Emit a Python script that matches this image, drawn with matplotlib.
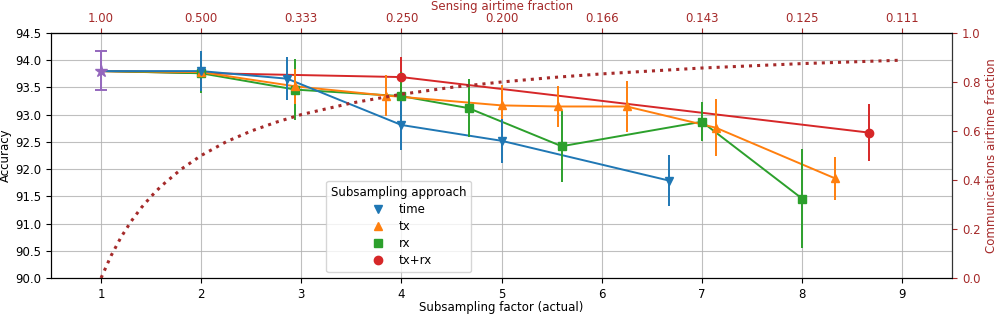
import matplotlib
matplotlib.use("Agg")
import matplotlib.pyplot as plt
from matplotlib.lines import Line2D

plt.rcParams["font.size"] = 8.5

# ---- data ----
time_x = [1, 2, 2.86, 4, 5, 6.67]
time_acc = [93.80, 93.80, 93.66, 92.81, 92.52, 91.79]
time_err = [0, 0.37, 0.40, 0.46, 0.40, 0.47]

tx_x = [1, 2, 2.94, 3.85, 5, 5.56, 6.25, 7.14, 8.33]
tx_acc = [93.80, 93.78, 93.52, 93.35, 93.17, 93.15, 93.15, 92.76, 91.83]
tx_err = [0, 0.30, 0.32, 0.37, 0.37, 0.37, 0.46, 0.52, 0.40]

rx_x = [1, 2, 2.94, 4, 4.67, 5.6, 7, 8]
rx_acc = [93.80, 93.76, 93.46, 93.34, 93.12, 92.42, 92.87, 91.46]
rx_err = [0, 0.37, 0.56, 0.45, 0.53, 0.65, 0.36, 0.91]

txrx_x = [1, 4, 8.67]
txrx_acc = [93.80, 93.69, 92.67]
txrx_err = [0, 0.36, 0.52]

base_x = [1]
base_acc = [93.81]
base_err = [0.35]

comm_x = [1, 1.1, 1.2, 1.3, 1.4, 1.5, 1.6, 1.8, 2.0, 2.25, 2.5, 2.75, 3, 3.5, 4,
          4.5, 5, 5.5, 6, 7, 8, 9]
comm_frac = [0, 0.091, 0.167, 0.231, 0.286, 0.333, 0.375, 0.444, 0.5, 0.556, 0.6,
             0.636, 0.667, 0.714, 0.75, 0.778, 0.8, 0.818, 0.833, 0.857, 0.875, 0.889]

top_ticks = [1, 2, 3, 4, 5, 6, 7, 8, 9]
top_labels = ["1.00", "0.500", "0.333", "0.250", "0.200", "0.166", "0.143", "0.125", "0.111"]

series = [
    ("time", time_x, time_acc, time_err, "#1f77b4", "v"),
    ("tx", tx_x, tx_acc, tx_err, "#ff7f0e", "^"),
    ("rx", rx_x, rx_acc, rx_err, "#2ca02c", "s"),
    ("tx+rx", txrx_x, txrx_acc, txrx_err, "#d62728", "o"),
]
accent = "#a52a2a"

fig = plt.figure(figsize=(9.96, 3.14), dpi=100)
ax = fig.add_axes([0.0512, 0.1146, 0.9048, 0.7804])

for name, xs, ys, es, col, mk in reversed(series):
    ax.plot(xs, ys, color=col, lw=1.4, zorder=2)
    ax.errorbar(xs[1:], ys[1:], yerr=es[1:], fmt=mk, color=col, ms=6,
                elinewidth=1.4, capsize=0, zorder=3)

ax.errorbar(base_x, base_acc, yerr=base_err, fmt="*", color="#9467bd", ms=9,
            elinewidth=1.4, capsize=4, capthick=1.4, zorder=4)

ax.set_xlim(0.5, 9.5)
ax.set_ylim(90.0, 94.5)
ax.set_xticks(top_ticks)
ax.set_yticks([90.0 + 0.5 * i for i in range(10)])
ax.yaxis.set_major_formatter(matplotlib.ticker.FormatStrFormatter("%.1f"))
ax.grid(True, color="#b0b0b0", lw=0.8, alpha=0.8)
ax.set_axisbelow(True)
ax.set_xlabel("Subsampling factor (actual)", labelpad=0)
ax.set_ylabel("Accuracy", labelpad=2)

top = ax.secondary_xaxis("top")
top.set_xticks(top_ticks)
top.set_xticklabels(top_labels)
top.tick_params(axis="x", colors=accent, pad=2.5)
top.set_xlabel("Sensing airtime fraction", color=accent, labelpad=1)

ax2 = ax.twinx()
ax2.plot(comm_x, comm_frac, color=accent, ls=":", lw=2.2)
ax2.set_ylim(0, 1.0)
ax2.set_yticks([0, 0.2, 0.4, 0.6, 0.8, 1.0])
ax2.tick_params(axis="y", colors=accent)
ax2.spines["right"].set_color("#333333")
ax2.set_ylabel("Communications airtime fraction", color=accent, labelpad=3)

handles = [Line2D([], [], ls="none", marker=mk, color=col, ms=6, label=name)
           for name, xs, ys, es, col, mk in series]
ax2.legend(handles=handles, title="Subsampling approach", loc="lower center",
           bbox_to_anchor=(0.386, 0.025), borderaxespad=0, fontsize=8.5,
           title_fontsize=8.5, labelspacing=0.35)

fig.savefig("out.png", dpi=100)
